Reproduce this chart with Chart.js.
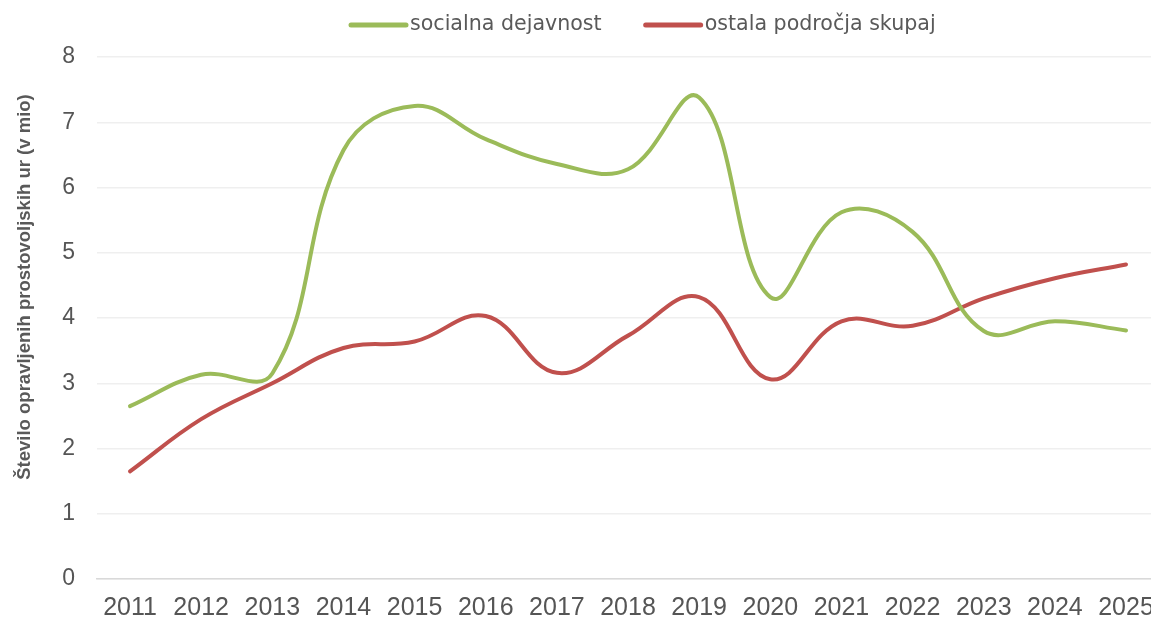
<!DOCTYPE html>
<html>
<head>
<meta charset="utf-8">
<script src="https://cdn.jsdelivr.net/npm/chart.js@4/dist/chart.umd.min.js"></script>
<style>
    html, body { margin: 0; padding: 0; background: #fff; }
    #chartWrap { width: 1151px; height: 618px; position: relative; }
</style>
</head>
<body>
<div id="chartWrap"><canvas id="volunteerChart"></canvas></div>
<script>
var years = [2011, 2012, 2013, 2014, 2015, 2016, 2017, 2018, 2019, 2020, 2021, 2022, 2023, 2024, 2025];
var socialValues = [2.65, 3.13, 3.15, 6.57, 7.25, 6.74, 6.36, 6.28, 7.38, 4.32, 5.62, 5.32, 3.8, 3.95, 3.81];
var otherValues = [1.65, 2.45, 3.0, 3.54, 3.64, 4.03, 3.16, 3.73, 4.32, 3.06, 3.95, 3.88, 4.3, 4.61, 4.82];
var seriesLabels = ['socialna dejavnost', 'ostala področja skupaj'];
var yTicks = [0, 1, 2, 3, 4, 5, 6, 7, 8];
var yTitle = 'Število opravljenih prostovoljskih ur (v mio)';

var textColor = '#595959';

function toPoints(values) {
    return years.map(function (y, i) { return { x: y, y: values[i] }; });
}

// legend and rotated axis title, drawn where Excel put them
var excelDecor = {
    id: 'excelDecor',
    afterDraw: function (chart) {
        var ctx = chart.ctx;
        ctx.save();
        // legend
        ctx.font = '20.6px "DejaVu Sans"';
        ctx.textBaseline = 'middle';
        ctx.textAlign = 'left';
        var x = 351;
        chart.data.datasets.forEach(function (ds) {
            ctx.strokeStyle = ds.borderColor;
            ctx.lineWidth = 5;
            ctx.lineCap = 'round';
            ctx.beginPath();
            ctx.moveTo(x, 25);
            ctx.lineTo(x + 55, 25);
            ctx.stroke();
            ctx.fillStyle = textColor;
            ctx.fillText(ds.label, x + 59, 25);
            x += 59 + ctx.measureText(ds.label).width + 44;
        });
        // y axis title
        ctx.translate(25, 287);
        ctx.rotate(-Math.PI / 2);
        ctx.font = 'bold 18.5px "Liberation Sans Narrow", "Liberation Sans"';
        ctx.textAlign = 'center';
        ctx.fillStyle = textColor;
        ctx.fillText(yTitle, 0, 0);
        ctx.restore();
    }
};

var chartCanvas = document.getElementById('volunteerChart').getContext('2d');
var volunteerChart = new Chart(chartCanvas, {
    type: 'line',
    data: {
        datasets: [
            {
                label: seriesLabels[0],
                data: toPoints(socialValues),
                borderColor: '#9BBB59',
                backgroundColor: '#9BBB59',
                borderWidth: 4,
                borderCapStyle: 'round',
                pointRadius: 0,
                tension: 0.4
            },
            {
                label: seriesLabels[1],
                data: toPoints(otherValues),
                borderColor: '#C0504D',
                backgroundColor: '#C0504D',
                borderWidth: 4,
                borderCapStyle: 'round',
                pointRadius: 0,
                tension: 0.4
            }
        ]
    },
    options: {
        responsive: true,
        maintainAspectRatio: false,
        animation: false,
        layout: { padding: { top: 57, left: 0, right: 0, bottom: 0 } },
        plugins: {
            legend: { display: false },
            tooltip: { enabled: false }
        },
        scales: {
            x: {
                type: 'linear',
                min: 2010.536,
                max: 2025.351,
                afterFit: function (scale) {
                    scale.height = 39;
                    scale.paddingLeft = 0;
                    scale.paddingRight = 0;
                },
                afterBuildTicks: function (scale) {
                    scale.ticks = years.map(function (y) { return { value: y }; });
                },
                grid: { display: false, drawTicks: false },
                border: { color: '#d9d9d9', width: 1.5 },
                ticks: {
                    color: '#555555',
                    padding: 14,
                    maxRotation: 0,
                    autoSkip: false,
                    font: { family: '"Liberation Sans", Arial', size: 25 },
                    callback: function (v) { return String(v); }
                }
            },
            y: {
                min: 0,
                max: 8,
                afterFit: function (scale) { scale.width = 97; },
                afterBuildTicks: function (scale) {
                    scale.ticks = yTicks.map(function (v) { return { value: v }; });
                },
                grid: { color: '#efefef', lineWidth: 1.5, drawTicks: false },
                border: { display: false },
                ticks: {
                    color: '#555555',
                    padding: 22,
                    font: { family: '"Liberation Sans", Arial', size: 23 }
                }
            }
        }
    },
    plugins: [excelDecor]
});
</script>
</body>
</html>
